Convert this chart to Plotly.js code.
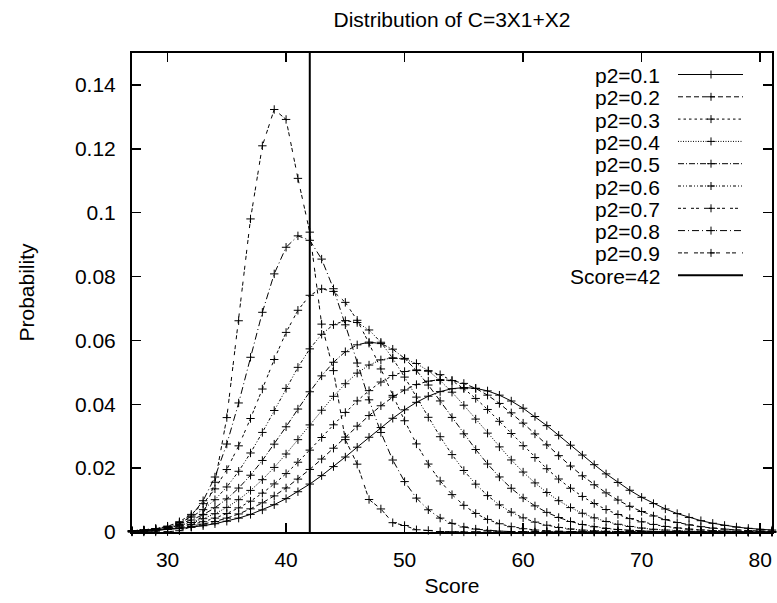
<!DOCTYPE html>
<html><head><meta charset="utf-8">
<script src="https://cdn.plot.ly/plotly-3.0.1.min.js"></script>
<style>html,body{margin:0;padding:0;background:#fff}</style>
</head><body>
<div id="chart" style="width:777px;height:603px"></div>
<script>
// ---- data ----
const scores = [27,28,29,30,31,32,33,34,35,36,37,38,39,40,41,42,43,44,45,46,47,48,49,50,51,52,53,54,55,56,57,58,59,60,61,62,63,64,65,66,67,68,69,70,71,72,73,74,75,76,77,78,79,80,81];
const p2_01 = [0.00028,0.0004,0.00057,0.00079,0.00108,0.00147,0.00196,0.00259,0.00337,0.00434,0.00551,0.00691,0.00855,0.01045,0.01261,0.01501,0.01765,0.02049,0.02348,0.02656,0.02967,0.03271,0.03561,0.03826,0.0406,0.04252,0.04396,0.04488,0.04522,0.04499,0.04419,0.04285,0.04102,0.03876,0.03616,0.03331,0.03029,0.02718,0.02409,0.02108,0.0182,0.01552,0.01307,0.01086,0.00891,0.00722,0.00577,0.00456,0.00355,0.00273,0.00207,0.00156,0.00115,0.00084,0.00061];
const p2_02 = [0.00031,0.00045,0.00065,0.00094,0.00131,0.0018,0.00245,0.00329,0.00434,0.00566,0.00725,0.00913,0.01131,0.01379,0.01656,0.01959,0.02284,0.02624,0.02971,0.03315,0.03646,0.03953,0.04224,0.04448,0.04617,0.04725,0.0477,0.04745,0.04653,0.04497,0.04285,0.04026,0.03731,0.03409,0.03071,0.02729,0.02391,0.02066,0.0176,0.01479,0.01225,0.01,0.00805,0.00641,0.00502,0.00388,0.00296,0.00223,0.00166,0.00122,0.00088,0.00064,0.00045,0.00031,0.00022];
const p2_03 = [0.00035,0.00053,0.00079,0.00116,0.00166,0.00233,0.00321,0.00435,0.00578,0.00754,0.00966,0.01216,0.01505,0.01829,0.02185,0.02564,0.02959,0.03357,0.03744,0.04106,0.04427,0.04696,0.04899,0.05027,0.05075,0.05041,0.04927,0.0474,0.04488,0.04182,0.03837,0.03467,0.03084,0.02702,0.02331,0.01982,0.0166,0.01369,0.01113,0.00892,0.00704,0.00548,0.0042,0.00318,0.00237,0.00174,0.00126,0.0009,0.00063,0.00044,0.0003,0.0002,0.00013,0.00009,0.00006];
const p2_04 = [0.00038,0.0006,0.00093,0.0014,0.00206,0.00297,0.00417,0.00573,0.0077,0.01012,0.01302,0.01639,0.02022,0.02443,0.02892,0.03354,0.03813,0.04249,0.04643,0.04975,0.05228,0.05391,0.05453,0.05414,0.05277,0.05049,0.04744,0.04378,0.0397,0.03537,0.03096,0.02666,0.02256,0.01877,0.01537,0.01238,0.00981,0.00765,0.00587,0.00443,0.00329,0.00241,0.00173,0.00123,0.00085,0.00059,0.0004,0.00026,0.00017,0.00011,0.00007,0.00004,0.00003,0.00002,0.00001];
const p2_05 = [0.00037,0.00063,0.00104,0.00165,0.00252,0.00375,0.00541,0.00759,0.01036,0.01375,0.01778,0.0224,0.02751,0.03295,0.0385,0.04391,0.04889,0.05316,0.05647,0.05861,0.05946,0.059,0.05725,0.05437,0.05055,0.04602,0.04104,0.03588,0.03074,0.02584,0.0213,0.01724,0.01369,0.01068,0.00818,0.00615,0.00454,0.00329,0.00234,0.00164,0.00112,0.00076,0.0005,0.00032,0.0002,0.00013,0.00008,0.00005,0.00003,0.00002,0.00001,0.00001,0,0,0];
const p2_06 = [0.00031,0.00059,0.00107,0.00183,0.00298,0.00466,0.007,0.01012,0.01411,0.01901,0.02475,0.03118,0.03805,0.04498,0.05156,0.05735,0.06192,0.06493,0.06619,0.0656,0.06327,0.05942,0.05437,0.04851,0.04224,0.03592,0.02984,0.02424,0.01926,0.01498,0.0114,0.0085,0.0062,0.00443,0.0031,0.00212,0.00142,0.00093,0.00059,0.00037,0.00022,0.00013,0.00007,0.00004,0.00002,0.00001,0,0,0,0,0,0,0,0,0];
const p2_07 = [0.00014,0.00039,0.00088,0.00176,0.00323,0.00551,0.00887,0.01351,0.01956,0.02698,0.03554,0.04477,0.05402,0.0625,0.06943,0.07412,0.07614,0.07534,0.07191,0.0663,0.05912,0.05106,0.04279,0.03484,0.02759,0.02128,0.01599,0.01171,0.00835,0.00581,0.00393,0.00258,0.00165,0.00102,0.00061,0.00036,0.0002,0.00011,0.00006,0.00003,0.00001,0,0,0,0,0,0,0,0,0,0,0,0,0,0];
const p2_08 = [0.00004,0.00012,0.00036,0.00097,0.00233,0.00504,0.0098,0.01722,0.02755,0.04041,0.05471,0.0688,0.08083,0.08916,0.09274,0.09134,0.08546,0.07618,0.06488,0.05291,0.0414,0.03117,0.02254,0.01579,0.01061,0.00696,0.00436,0.0027,0.00157,0.00092,0.0005,0.00028,0.00014,0.00008,0.00004,0.00002,0.00001,0,0,0,0,0,0,0,0,0,0,0,0,0,0,0,0,0,0];
const p2_09 = [0,0,0.00002,0.00009,0.0004,0.00162,0.00551,0.01557,0.03583,0.06615,0.09804,0.12094,0.13231,0.12919,0.11074,0.0939,0.0651,0.05054,0.02893,0.02124,0.01018,0.00722,0.00292,0.00204,0.0007,0.00049,0.00015,0.0001,0.00002,0.00002,0,0,0,0,0,0,0,0,0,0,0,0,0,0,0,0,0,0,0,0,0,0,0,0,0];
const seriesNames = ['p2=0.1','p2=0.2','p2=0.3','p2=0.4','p2=0.5','p2=0.6','p2=0.7','p2=0.8','p2=0.9'];
const cutScore = 42;
const cutLabel = 'Score=42';
const xTicks = [30,40,50,60,70,80];
const yTicks = [0,0.02,0.04,0.06,0.08,0.1,0.12,0.14];
const yTickText = ['0','0.02','0.04','0.06','0.08','0.1','0.12','0.14'];

// ---- styles ----
const seriesValues = [p2_01,p2_02,p2_03,p2_04,p2_05,p2_06,p2_07,p2_08,p2_09];
const dashes = ['solid','5px,3px','2.5px,3px','1px,1.5px','6px,2px,1px,2px','3px,2px,1px,2px,1px,2px','3px,2px,3px,5px','7px,3px,1px,3px','4px,2px,4px,6px'];
const FONT = 'Liberation Sans, Arial, Helvetica, sans-serif';
const FS = 21;

const traces = seriesValues.map((vals, i) => ({
  type: 'scatter', mode: 'lines+markers', x: scores, y: vals, name: seriesNames[i],
  line: {color: '#000', width: 1, dash: dashes[i]},
  marker: {symbol: 'cross-thin', size: 6, color: '#000', line: {color: '#000', width: 1}},
  cliponaxis: false, showlegend: false
}));
traces.push({
  type: 'scatter', mode: 'lines', x: [cutScore, cutScore], y: [0, 0.15], name: cutLabel,
  line: {color: '#000', width: 2}, showlegend: false
});

// ---- custom gnuplot-style key (text left, sample right) ----
const plotL = 132, plotR = 772, plotT = 53, plotB = 532;
const pw = plotR - plotL, ph = plotB - plotT;
const px2x = p => (p - plotL) / pw;
const py2y = p => (plotB - p) / ph;
const keyNames = seriesNames.concat([cutLabel]);
const keyDash = dashes.concat(['solid']);
const annotations = [], shapes = [];
keyNames.forEach((nm, i) => {
  const yPx = 75.5 + 22.3 * i;
  const y = py2y(yPx);
  annotations.push({xref: 'paper', yref: 'paper', x: px2x(662), y: y, xanchor: 'right', yanchor: 'middle',
    text: nm, showarrow: false, font: {family: FONT, size: FS, color: '#000'}});
  shapes.push({type: 'line', xref: 'paper', yref: 'paper', x0: px2x(678), x1: px2x(743), y0: py2y(yPx - 1), y1: py2y(yPx - 1),
    line: {color: '#000', width: i === 9 ? 2 : 1, dash: keyDash[i]}});
  if (i < 9) {
    const cx = 711, cy = yPx - 1, r = 4;
    shapes.push({type: 'path', xref: 'paper', yref: 'paper',
      path: `M ${px2x(cx - r)},${py2y(cy)} L ${px2x(cx + r)},${py2y(cy)} M ${px2x(cx)},${py2y(cy - r)} L ${px2x(cx)},${py2y(cy + r)}`,
      line: {color: '#000', width: 1}});
  }
});

const axisCommon = {
  showline: true, linecolor: '#000', linewidth: 2, mirror: 'ticks',
  ticks: 'inside', ticklen: 9, tickwidth: 1.5, tickcolor: '#000',
  showgrid: false, zeroline: false,
  tickfont: {family: FONT, size: FS, color: '#000'}
};

const layout = {
  width: 777, height: 603,
  margin: {l: plotL, r: 777 - plotR, t: plotT, b: 603 - plotB},
  paper_bgcolor: '#fff', plot_bgcolor: '#fff',
  font: {family: FONT, size: FS, color: '#000'},
  showlegend: false,
  title: {text: 'Distribution of C=3X1+X2', xref: 'paper', x: 0.5, xanchor: 'center',
    yref: 'container', y: 1 - 20 / 603, yanchor: 'middle', font: {family: FONT, size: FS, color: '#000'}},
  xaxis: Object.assign({}, axisCommon, {range: [27, 81], tickvals: xTicks, ticklabelstandoff: 8,
    title: {text: 'Score', standoff: 8, font: {family: FONT, size: FS, color: '#000'}}}),
  yaxis: Object.assign({}, axisCommon, {range: [0, 0.15], tickvals: yTicks, ticktext: yTickText, ticklabelstandoff: 10,
    title: {text: 'Probability', standoff: 35, font: {family: FONT, size: FS, color: '#000'}}}),
  annotations: annotations, shapes: shapes
};

Plotly.newPlot('chart', traces, layout, {displayModeBar: false, staticPlot: true});
</script>
</body></html>
